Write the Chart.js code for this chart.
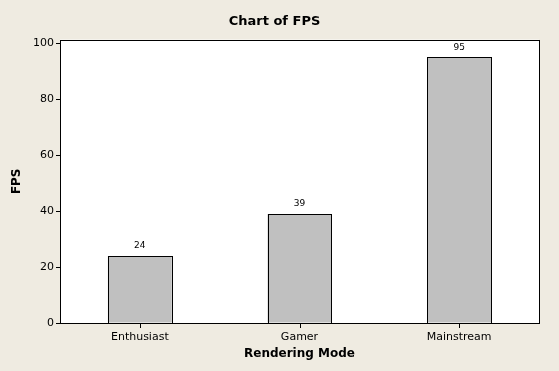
<!DOCTYPE html>
<html>
<head>
<meta charset="utf-8">
<script src="https://cdn.jsdelivr.net/npm/chart.js@4"></script>
<style>
  html, body { margin: 0; padding: 0; background: #EFEBE1; }
  #wrap { width: 559px; height: 371px; }
</style>
</head>
<body>
<div id="wrap"><canvas id="myChart" width="559" height="371"></canvas></div>
<script>
const categories = ["Enthusiast", "Gamer", "Mainstream"];
const fps = [24, 39, 95];
const yTicks = [0, 20, 40, 60, 80, 100];

const font = "'DejaVu Sans', Verdana, sans-serif";

// backgrounds, crisp bar outlines, plot box, x tick marks, value labels
const frame = {
	id: "frame",
	beforeDraw(chart) {
		const ctx = chart.ctx;
		const a = chart.chartArea;
		ctx.save();
		ctx.fillStyle = "#EFEBE1";
		ctx.fillRect(0, 0, chart.width, chart.height);
		ctx.fillStyle = "#FFFFFF";
		ctx.fillRect(a.left, a.top, a.right - a.left, a.bottom - a.top);
		ctx.restore();
	},
	afterDatasetsDraw(chart) {
		const ctx = chart.ctx;
		const a = chart.chartArea;
		const x = chart.scales.x;
		ctx.save();
		ctx.strokeStyle = "#000";
		ctx.lineWidth = 1;
		chart.getDatasetMeta(0).data.forEach((bar) => {
			const l = Math.round(bar.x - bar.width / 2), r = Math.round(bar.x + bar.width / 2);
			const t = Math.round(bar.y), b = Math.round(bar.base);
			ctx.strokeRect(l + 0.5, t + 0.5, r - l, b - t);
		});
		ctx.strokeRect(Math.round(a.left) + 0.5, Math.round(a.top) + 0.5,
			Math.round(a.right - a.left), Math.round(a.bottom - a.top));
		ctx.beginPath();
		categories.forEach((c, i) => {
			const px = Math.round(x.getPixelForValue(i)) + 0.5;
			ctx.moveTo(px, Math.round(a.bottom));
			ctx.lineTo(px, Math.round(a.bottom) + 5);
		});
		ctx.stroke();
		ctx.fillStyle = "#000";
		ctx.font = "9px " + font;
		ctx.textAlign = "center";
		ctx.textBaseline = "middle";
		chart.getDatasetMeta(0).data.forEach((bar, i) => {
			ctx.fillText(fps[i], bar.x, bar.y - 10);
		});
		ctx.restore();
	}
};

new Chart(document.getElementById("myChart"), {
	type: "bar",
	data: {
		labels: categories,
		datasets: [{
			data: fps,
			backgroundColor: "#C0C0C0",
			borderWidth: 0,
			barPercentage: 0.4,
			categoryPercentage: 1.0
		}]
	},
	options: {
		responsive: false,
		animation: false,
		layout: { padding: { left: 10, right: 20, top: 0, bottom: 10 } },
		plugins: {
			legend: { display: false },
			tooltip: { enabled: false },
			title: {
				display: true,
				text: "Chart of FPS",
				color: "#000",
				font: { family: font, size: 13, weight: "bold" },
				padding: { top: 14, bottom: 10 }
			}
		},
		scales: {
			x: {
				grid: { display: false },
				border: { display: false },
				ticks: { color: "#000", font: { family: font, size: 11 }, padding: 0, maxRotation: 0 },
				title: {
					display: true,
					text: "Rendering Mode",
					color: "#000",
					font: { family: font, size: 12, weight: "bold" },
					padding: { top: 2, bottom: 0 }
				},
				afterFit(scale) { scale.height = 38; }
			},
			y: {
				min: 0,
				max: 101.4,
				afterBuildTicks(scale) { scale.ticks = yTicks.map(v => ({ value: v })); },
				grid: { drawOnChartArea: false, color: "#000", tickLength: 4, tickWidth: 1 },
				border: { display: false },
				ticks: { color: "#000", font: { family: font, size: 11 }, padding: 2 },
				title: {
					display: true,
					text: "FPS",
					color: "#000",
					font: { family: font, size: 12, weight: "bold" },
					padding: { top: 0, bottom: 0 }
				},
				afterFit(scale) { scale.width = 50; }
			}
		}
	},
	plugins: [frame]
});
</script>
</body>
</html>
